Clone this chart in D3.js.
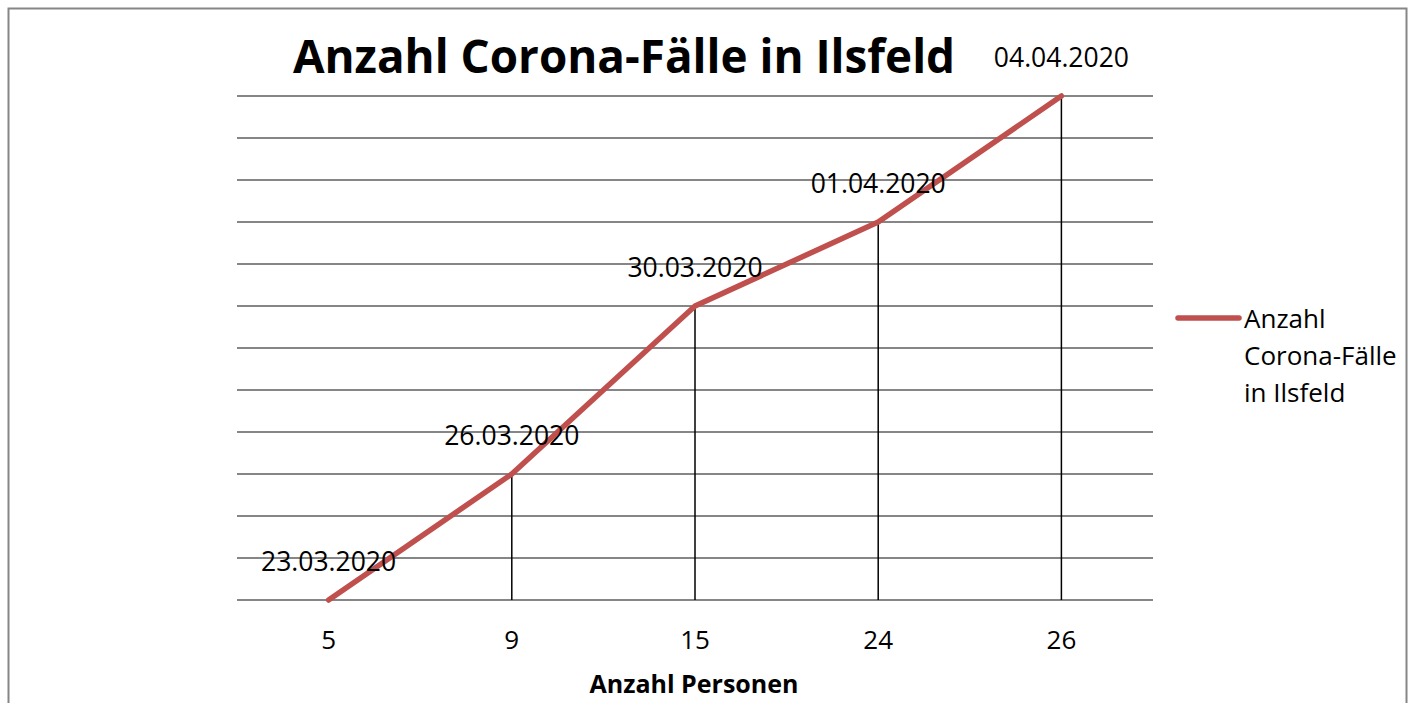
<!DOCTYPE html>
<html><head><meta charset="utf-8">
<script src="https://cdn.jsdelivr.net/npm/d3@7"></script>
<style>body{margin:0;background:#fff}svg{display:block}</style>
</head><body>
<script>
const categories = ["5", "9", "15", "24", "26"];
const values = [0, 3, 7, 9, 12];
const dateLabels = ["23.03.2020", "26.03.2020", "30.03.2020", "01.04.2020", "04.04.2020"];
const yTicks = [0,1,2,3,4,5,6,7,8,9,10,11,12];
const title = "Anzahl Corona-Fälle in Ilsfeld";
const xTitle = "Anzahl Personen";
const legendLines = ["Anzahl", "Corona-Fälle", "in Ilsfeld"];

const W = 1413, H = 703;
const font = "'Open Sans', 'Noto Sans', sans-serif";
const svg = d3.select("body").append("svg").attr("width", W).attr("height", H);

svg.append("rect").attr("x", 8.5).attr("y", 8.5).attr("width", 1398).attr("height", 720)
  .attr("fill", "#fff").attr("stroke", "#868686").attr("stroke-width", 2);

const x = d3.scaleBand().domain(categories).range([237, 1153]);
const y = d3.scaleLinear().domain([0, 12]).range([600, 96]);
const cx = d => x(d) + x.bandwidth() / 2;

// gridlines
svg.append("g").selectAll("line").data(yTicks).join("line")
  .attr("x1", 237).attr("x2", 1153)
  .attr("y1", d => y(d)).attr("y2", d => y(d))
  .attr("stroke", "#868686").attr("stroke-width", 2);

// x axis labels
const xAxis = d3.axisBottom(x).tickSize(0).tickPadding(0);
const gx = svg.append("g").attr("transform", "translate(0,600)").call(xAxis);
gx.select(".domain").remove();
gx.selectAll("text").attr("font-family", font).attr("font-size", 26).attr("fill", "#000")
  .attr("dy", null).attr("y", 49);

// drop lines
const pts = categories.map((c, i) => ({c, v: values[i], lab: dateLabels[i]}));
svg.append("g").selectAll("line").data(pts.filter(p => p.v > 0)).join("line")
  .attr("x1", d => cx(d.c)).attr("x2", d => cx(d.c))
  .attr("y1", d => y(d.v)).attr("y2", y(0))
  .attr("stroke", "#000").attr("stroke-width", 1.5);

// line
const line = d3.line().x(d => cx(d.c)).y(d => y(d.v));
svg.append("path").datum(pts).attr("d", line)
  .attr("fill", "none").attr("stroke", "#C0504D").attr("stroke-width", 5.5)
  .attr("stroke-linecap", "round").attr("stroke-linejoin", "round");

// data labels
svg.append("g").selectAll("text").data(pts).join("text")
  .attr("x", d => cx(d.c)).attr("y", d => y(d.v) - 29)
  .attr("text-anchor", "middle").attr("font-family", font).attr("font-size", 26.5)
  .attr("fill", "#000").text(d => d.lab);

// title
svg.append("text").attr("x", 624).attr("y", 73).attr("text-anchor", "middle")
  .attr("font-family", font).attr("font-size", 45.8).attr("font-weight", "bold")
  .attr("fill", "#000").text(title);

// x title
svg.append("text").attr("x", 694).attr("y", 693).attr("text-anchor", "middle")
  .attr("font-family", font).attr("font-size", 25).attr("font-weight", "bold")
  .attr("fill", "#000").text(xTitle);

// legend
svg.append("line").attr("x1", 1178).attr("x2", 1239).attr("y1", 318).attr("y2", 318)
  .attr("stroke", "#C0504D").attr("stroke-width", 5.5).attr("stroke-linecap", "round");
svg.append("g").selectAll("text").data(legendLines).join("text")
  .attr("x", 1244).attr("y", (d, i) => 328 + i * 37)
  .attr("font-family", font).attr("font-size", 26).attr("fill", "#000").text(d => d);
</script>
</body></html>
